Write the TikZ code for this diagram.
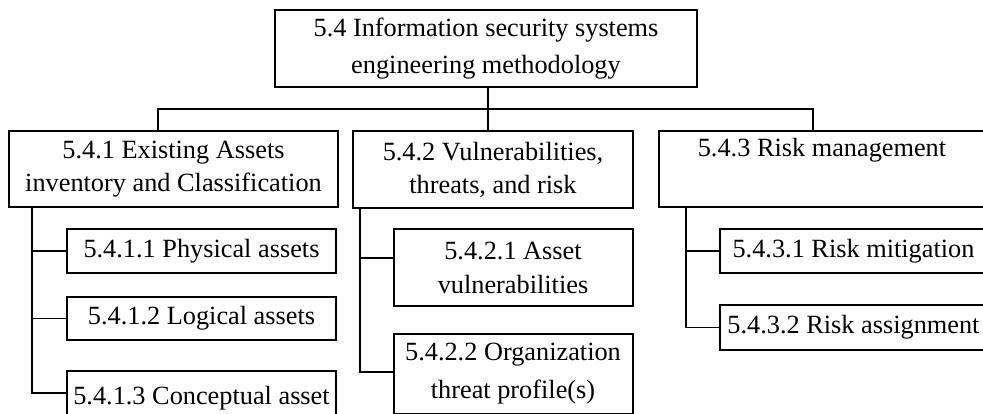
\documentclass[tikz,border=0pt]{standalone}
\usepackage{fontspec}
\setmainfont{Liberation Serif}
\begin{document}
\begin{tikzpicture}[x=1pt,y=-1pt,
  box/.style={draw, line width=2pt, rectangle, inner sep=0pt, align=center,
    font=\fontsize{26.3}{35}\selectfont},
  link/.style={draw, line width=1.4pt}]
  \useasboundingbox (0,0) rectangle (983,413);
  \fill[white] (0,0) rectangle (983,413);
  \clip (0,0) rectangle (983,413);

  % root
  \node[box, minimum width=422pt, minimum height=77pt, font=\fontsize{26.3}{37}\selectfont] (top) at (486,48.5)
    {5.4 Information security systems\\engineering methodology};

  % second level
  \node[box, minimum width=329pt, minimum height=76pt, font=\fontsize{26.3}{33}\selectfont] (A) at (173.5,169)
    {5.4.1 Existing Assets\\inventory and Classification};
  \node[box, minimum width=280pt, minimum height=77pt, font=\fontsize{26.3}{33}\selectfont] (B) at (493,169.5)
    {5.4.2 Vulnerabilities,\\threats, and risk};
  \node[box, minimum width=326pt, minimum height=76pt, font=\fontsize{26.3}{33}\selectfont] (C) at (822,169)
    {5.4.3 Risk management\\\strut};

  % third level
  \node[box, minimum width=269pt, minimum height=44pt] (A1) at (201.5,251) {5.4.1.1 Physical assets};
  \node[box, minimum width=269pt, minimum height=43pt] (A2) at (201.5,318.5) {5.4.1.2 Logical assets};
  \node[box, minimum width=269pt, minimum height=54pt] (A3) at (201.5,398) {5.4.1.3 Conceptual asset};

  \node[box, minimum width=239pt, minimum height=77pt, font=\fontsize{26.3}{34}\selectfont] (B1) at (513,267.5)
    {5.4.2.1 Asset\\vulnerabilities};
  \node[box, minimum width=239pt, minimum height=80pt, font=\fontsize{26.3}{38}\selectfont] (B2) at (513,374)
    {5.4.2.2 Organization\\threat profile(s)};

  \node[box, minimum width=267pt, minimum height=44pt] (C1) at (853.5,251) {5.4.3.1 Risk mitigation};
  \node[box, minimum width=267pt, minimum height=45pt] (C2) at (853.5,327.5) {5.4.3.2 Risk assignment};

  % root to second level
  \coordinate (bar) at (0,109);
  \draw[link] ([xshift=2pt]top.south) -- ([xshift=2pt]top.south |- bar);
  \draw[link] ([xshift=-15.5pt]A.north) |- ([xshift=-9pt]C.north |- bar) -- ([xshift=-9pt]C.north);
  \draw[link] ([xshift=-5pt]B.north) -- ([xshift=-5pt]B.north |- bar);

  % 5.4.1 children
  \coordinate (A3in) at ([yshift=5pt]A3.west);
  \draw[link] ([xshift=24pt]A.south west) |- (A3in);
  \draw[link] ([xshift=24pt]A.south west |- A1.west) -- (A1.west);
  \draw[link] ([xshift=24pt]A.south west |- A2.west) -- (A2.west);

  % 5.4.2 children
  \coordinate (B1in) at ([yshift=9.5pt]B1.west);
  \draw[link] ([xshift=8pt]B.south west) |- ([yshift=2pt]B2.west);
  \draw[link] ([xshift=8pt]B.south west |- B1in) -- (B1in);

  % 5.4.3 children
  \draw[link] ([xshift=28pt]C.south west) |- (C2.west);
  \draw[link] ([xshift=28pt]C.south west |- C1.west) -- (C1.west);
\end{tikzpicture}
\end{document}
